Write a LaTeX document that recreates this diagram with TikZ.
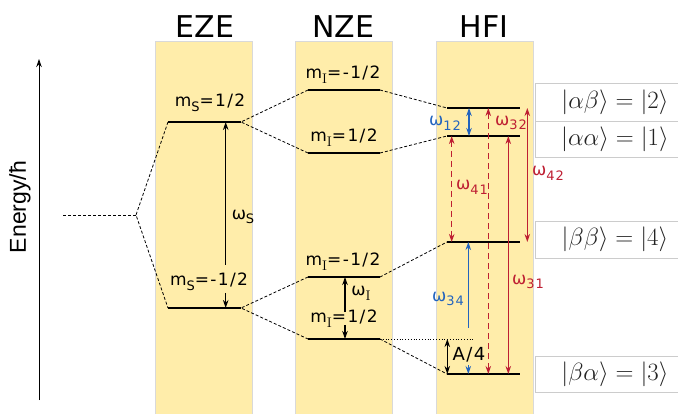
\documentclass[tikz,border=0pt]{standalone}
\usepackage{fontspec}
\usetikzlibrary{arrows.meta}
\newfontfamily\dv{DejaVu Sans}[LetterSpace=8]
\newfontfamily\dvt{DejaVu Sans}
\newfontfamily\arl{Liberation Sans}
\definecolor{bandyellow}{RGB}{255,237,170}
\definecolor{hfred}{RGB}{190,30,50}
\definecolor{hfblue}{RGB}{35,100,190}
\definecolor{ketgray}{RGB}{35,35,35}
% small lowered subscript in the label font
\newcommand{\sbs}[1]{\raisebox{-0.28em}{\fontsize{13}{13}\selectfont #1}}
\newcommand{\sbI}{\raisebox{-0.28em}{\fontsize{14}{14}\selectfont\rmfamily I}}
\tikzset{
  title/.style={font=\dvt\fontsize{30}{32}\selectfont},
  lbl/.style={font=\dv\fontsize{17}{19}\selectfont, inner sep=0pt},
  level/.style={line width=2pt},
  link/.style={dash pattern=on 3pt off 2pt, line width=0.8pt},
  longdash/.style={dash pattern=on 6pt off 4pt},
  tip/.style={-{Stealth[length=8pt,width=5.5pt]}},
  tips/.style={{Stealth[length=8pt,width=5.5pt]}-{Stealth[length=8pt,width=5.5pt]}},
  trans/.style={line width=1.1pt},
  ketbox/.style={draw=black!20, line width=0.7pt},
  ket/.style={font=\fontsize{26}{28}\selectfont, text=ketgray, inner sep=0pt},
}
\begin{document}
\begin{tikzpicture}[x=1pt,y=-1pt]
\useasboundingbox (0,0) rectangle (678,414);

% yellow columns
\fill[bandyellow] (155,41) rectangle (252,414);
\draw[black!15, line width=0.5pt] (155,414) -- (155,41) -- (252,41) -- (252,414);
\fill[bandyellow] (295,41) rectangle (392,414);
\draw[black!15, line width=0.5pt] (295,414) -- (295,41) -- (392,41) -- (392,414);
\fill[bandyellow] (436,41) rectangle (533,414);
\draw[black!15, line width=0.5pt] (436,414) -- (436,41) -- (533,41) -- (533,414);

% column titles
\node[title] (tEZE) at (205,27) {EZE};
\node[title] (tNZE) at (343,27) {NZE};
\node[title] (tHFI) at (484,27) {HFI};

% energy axis
\coordinate (axB) at (39,400);
\coordinate (axT) at (39,59);
\draw[tip, line width=0.9pt] (axB) -- (axT);
\node[font=\arl\fontsize{23}{24}\selectfont, rotate=90] (elab) at (20,207) {Energy/ħ};

% degenerate level and its splitting
\coordinate (d0) at (63,215);
\coordinate (d1) at (136,215);
\draw[link] (d0) -- (d1);

% EZE levels
\coordinate (sUl) at (168,122); \coordinate (sUr) at (241,122);
\coordinate (sDl) at (168,308); \coordinate (sDr) at (241,308);
\draw[level] (sUl) -- (sUr);
\draw[level] (sDl) -- (sDr);
\draw[link] (sUl) -- (d1) -- (sDl);

% NZE levels
\coordinate (n1l) at (308,90);  \coordinate (n1r) at (380,90);
\coordinate (n2l) at (308,153); \coordinate (n2r) at (380,153);
\coordinate (n3l) at (308,277); \coordinate (n3r) at (380,277);
\coordinate (n4l) at (308,339); \coordinate (n4r) at (380,339);
\foreach \n in {n1,n2,n3,n4} \draw[level] (\n l) -- (\n r);
\draw[link] (n1l) -- (sUr) -- (n2l);
\draw[link] (n3l) -- (sDr) -- (n4l);

% HFI levels
\coordinate (h2l) at (447,108); \coordinate (h2r) at (520,108);
\coordinate (h1l) at (447,136); \coordinate (h1r) at (520,136);
\coordinate (h4l) at (447,242); \coordinate (h4r) at (520,242);
\coordinate (h3l) at (447,374); \coordinate (h3r) at (520,374);
\foreach \n in {h1,h2,h3,h4} \draw[level] (\n l) -- (\n r);
\draw[link] (n1r) -- (h2l);
\draw[link] (n2r) -- (h1l);
\draw[link] (n3r) -- (h4l);
\draw[link] (n4r) -- (h3l);
\coordinate (dotE) at (473,339);
\draw[dotted, line width=0.8pt] (n4r) -- (dotE);

% EZE labels and electron Zeeman gap
\node[lbl] (ms1) at (210,103) {m\sbs{S}=1/2};
\node[lbl] (ms2) at (209,282) {m\sbs{S}=-1/2};
\coordinate (wsA) at ([xshift=57.7pt]sDl);
\draw[tip, trans] ([yshift=43pt]wsA) -- ([xshift=57.7pt]sUl);
\draw[tip, trans] ([yshift=15pt]wsA) -- (wsA);
\node[lbl] (wS) at (243,217) {ω\sbs{S}};

% NZE labels and nuclear Zeeman gap
\node[lbl] (mi1) at (343,75)  {m\sbI=-1/2};
\node[lbl] (mi2) at (344,138) {m\sbI=1/2};
\node[lbl] (mi3) at (343,262) {m\sbI=-1/2};
\node[lbl] (mi4) at (344,319) {m\sbI=1/2};
\coordinate (wiA) at ([xshift=37pt]n4l);
\draw[tip, trans] ([yshift=27pt]wiA) -- ([xshift=37pt]n3l);
\draw[tip, trans] ([yshift=14pt]wiA) -- (wiA);
\node[lbl] (wI) at (361,293) {ω\sbI};

% HFI transitions
\draw[tips, trans, hfblue] ([xshift=22pt]h2l) -- ([xshift=22pt]h1l);
\node[lbl, text=hfblue] (w12) at (445,123) {ω\sbs{12}};

\draw[tips, trans, hfred, longdash] ([xshift=4.7pt]h1l) -- ([xshift=4.7pt]h4l);
\node[lbl, text=hfred] (w41) at (472,187) {ω\sbs{41}};

\draw[tips, trans, hfred, longdash] ([xshift=41.3pt]h3l) -- ([xshift=41.3pt]h2l);
\node[lbl, text=hfred] (w32) at (511,123) {ω\sbs{32}};

\draw[tips, trans, hfred] ([xshift=61.3pt]h3l) -- ([xshift=61.3pt]h1l);
\node[lbl, text=hfred] (w31) at (528,282) {ω\sbs{31}};

\draw[tips, trans, hfred] ([xshift=80.3pt]h2l) -- ([xshift=80.3pt]h4l);
\node[lbl, text=hfred] (w42) at (548,173) {ω\sbs{42}};

\coordinate (w34A) at ([xshift=21.3pt]h3l);
\draw[tip, trans, hfblue] ([yshift=46pt]w34A) -- ([xshift=21.3pt]h4l);
\draw[tip, trans, hfblue] ([yshift=9pt]w34A) -- (w34A);
\node[lbl, text=hfblue] (w34) at (448,299) {ω\sbs{34}};

% hyperfine shift
\coordinate (aT) at ([xshift=0.3pt]h3l |- n4l);
\draw[tips, trans] (aT) -- ([xshift=0.3pt]h3l);
\node[lbl, font=\dv\fontsize{18}{19}\selectfont] (a4) at (469,355) {A/4};

% product-state labels
\draw[ketbox] (678,83) -- (535,83) -- (535,157) -- (678,157);
\draw[ketbox] (535,121) -- (678,121);
\draw[ketbox] (678,221) -- (535,221) -- (535,258) -- (678,258);
\draw[ketbox] (678,356) -- (535,356) -- (535,392) -- (678,392);
\node[ket] (k2) at (615,102) {$|\alpha\beta\rangle = |2\rangle$};
\node[ket] (k1) at (615,139) {$|\alpha\alpha\rangle = |1\rangle$};
\node[ket] (k4) at (615,239) {$|\beta\beta\rangle = |4\rangle$};
\node[ket] (k3) at (615,374) {$|\beta\alpha\rangle = |3\rangle$};
\end{tikzpicture}
\end{document}
